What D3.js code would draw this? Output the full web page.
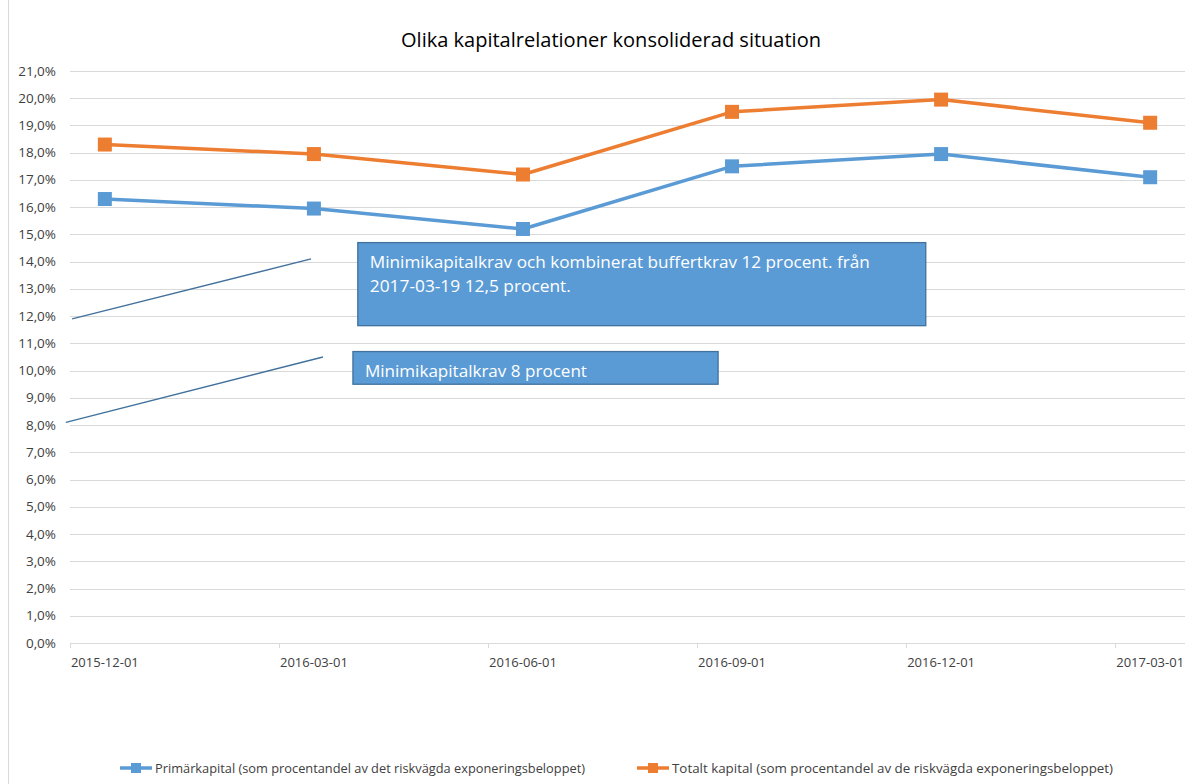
<!DOCTYPE html>
<html>
<head>
<meta charset="utf-8">
<script src="https://cdn.jsdelivr.net/npm/d3@7"></script>
<style>
  html, body { margin: 0; padding: 0; background: #fff; }
  svg { display: block; font-family: "Open Sans", sans-serif; }
</style>
</head>
<body>
<svg></svg>
<script>
// data
const dates = ['2015-12-01', '2016-03-01', '2016-06-01', '2016-09-01', '2016-12-01', '2017-03-01'];
const primar = [16.3, 15.95, 15.2, 17.5, 17.95, 17.1];
const totalt = [18.3, 17.95, 17.2, 19.5, 19.95, 19.1];
const yTicks = d3.range(0, 22, 1);
const seriesNames = [
  'Primärkapital (som procentandel av det riskvägda exponeringsbeloppet)',
  'Totalt kapital (som procentandel av de riskvägda exponeringsbeloppet)'
];
const boxTexts = [
  ['Minimikapitalkrav och kombinerat buffertkrav 12 procent. från', '2017-03-19 12,5 procent.'],
  ['Minimikapitalkrav 8 procent']
];
// annotation connector lines in data units (month index, percent)
const connectors = [
  [[0.03, 11.9], [3.46, 14.1]],
  [[-0.06, 8.1], [3.63, 10.5]]
];

const width = 1189;
const height = 784;
const margin = { left: 70, top: 71, right: 4, bottom: 141 };

const svg = d3.select('svg').attr('width', width).attr('height', height);

// month index from first date (Excel date axis, base unit months)
const start = new Date(dates[0]);
const monthIdx = (s) => {
  const d = new Date(s);
  return (d.getUTCFullYear() - start.getUTCFullYear()) * 12 + d.getUTCMonth() - start.getUTCMonth();
};
const nMonths = monthIdx(dates[dates.length - 1]) + 1;

const x = d3.scaleLinear().domain([0, nMonths]).range([margin.left, width - margin.right]);
const y = d3.scaleLinear().domain([0, 21]).range([height - margin.bottom, margin.top]);

// chart border
svg.append('rect')
  .attr('x', 8.5).attr('y', -2)
  .attr('width', width).attr('height', height + 4)
  .attr('fill', 'none').attr('stroke', '#d9d9d9');

// title
svg.append('text')
  .attr('x', 611).attr('y', 47)
  .attr('text-anchor', 'middle')
  .attr('font-size', 19.5)
  .attr('fill', '#000')
  .attr('textLength', 420)
  .attr('lengthAdjust', 'spacingAndGlyphs')
  .text('Olika kapitalrelationer konsoliderad situation');

// gridlines
svg.append('g')
  .selectAll('line')
  .data(yTicks)
  .join('line')
  .attr('x1', x(0)).attr('x2', x(nMonths))
  .attr('y1', (d) => Math.round(y(d)) + 0.5)
  .attr('y2', (d) => Math.round(y(d)) + 0.5)
  .attr('stroke', '#d9d9d9');

// y labels
svg.append('g')
  .selectAll('text')
  .data(yTicks)
  .join('text')
  .attr('x', 56)
  .attr('y', (d) => y(d) + 4.5)
  .attr('text-anchor', 'end')
  .attr('font-size', 13.5)
  .attr('fill', '#404040')
  .text((d) => d.toFixed(1).replace('.', ',') + '%');

// x tick marks
svg.append('g')
  .selectAll('line')
  .data(d3.range(0, nMonths + 1, 3))
  .join('line')
  .attr('x1', (d) => Math.round(x(d)) + 0.5)
  .attr('x2', (d) => Math.round(x(d)) + 0.5)
  .attr('y1', y(0)).attr('y2', y(0) + 5)
  .attr('stroke', '#d9d9d9');

// x labels
svg.append('g')
  .selectAll('text')
  .data(dates)
  .join('text')
  .attr('x', (d) => x(monthIdx(d) + 0.5))
  .attr('y', 667)
  .attr('text-anchor', 'middle')
  .attr('font-size', 13)
  .attr('fill', '#404040')
  .text((d) => d);

// series
const colors = ['#5B9BD5', '#ED7D31'];
const series = [primar, totalt];
const line = d3.line()
  .x((d, i) => x(monthIdx(dates[i]) + 0.5))
  .y((d) => y(d));

series.forEach((vals, si) => {
  svg.append('path')
    .datum(vals)
    .attr('d', line)
    .attr('fill', 'none')
    .attr('stroke', colors[si])
    .attr('stroke-width', 3.5)
    .attr('stroke-linejoin', 'round');
  svg.append('g')
    .selectAll('rect')
    .data(vals)
    .join('rect')
    .attr('x', (d, i) => x(monthIdx(dates[i]) + 0.5) - 7)
    .attr('y', (d) => y(d) - 7)
    .attr('width', 14).attr('height', 14)
    .attr('fill', colors[si]);
});

// annotation connectors
svg.append('g')
  .selectAll('line')
  .data(connectors)
  .join('line')
  .attr('x1', (d) => x(d[0][0])).attr('y1', (d) => y(d[0][1]))
  .attr('x2', (d) => x(d[1][0])).attr('y2', (d) => y(d[1][1]))
  .attr('stroke', '#41719C')
  .attr('stroke-width', 1.3);

// annotation boxes (data units: month index, percent)
const boxes = [
  { x0: 4.13, x1: 12.28, top: 14.7, bottom: 11.65, textW: [500, 201] },
  { x0: 4.06, x1: 9.3, top: 10.7, bottom: 9.5, textW: [222] }
];
boxes.forEach((b, bi) => {
  const bx = x(b.x0), by = y(b.top);
  svg.append('rect')
    .attr('x', bx).attr('y', by)
    .attr('width', x(b.x1) - bx).attr('height', y(b.bottom) - by)
    .attr('fill', '#5B9BD5')
    .attr('stroke', '#41719C')
    .attr('stroke-width', 1.3);
  svg.append('g')
    .selectAll('text')
    .data(boxTexts[bi])
    .join('text')
    .attr('x', bx + 12)
    .attr('y', (d, i) => by + 25 + i * 24)
    .attr('font-size', 16.5)
    .attr('fill', '#fff')
    .attr('textLength', (d, i) => b.textW[i])
    .attr('lengthAdjust', 'spacingAndGlyphs')
    .text((d) => d);
});

// legend
const legendX = [120, 637];
const legendTextW = [430, 441];
seriesNames.forEach((name, i) => {
  const lg = svg.append('g').attr('transform', `translate(${legendX[i]}, 768)`);
  lg.append('line')
    .attr('x1', 0).attr('x2', 32)
    .attr('stroke', colors[i]).attr('stroke-width', 3.5);
  lg.append('rect')
    .attr('x', 11).attr('y', -5).attr('width', 10).attr('height', 10)
    .attr('fill', colors[i]);
  lg.append('text')
    .attr('x', 35).attr('y', 4.5)
    .attr('font-size', 13)
    .attr('fill', '#404040')
    .attr('textLength', legendTextW[i])
    .attr('lengthAdjust', 'spacingAndGlyphs')
    .text(name);
});
</script>
</body>
</html>
